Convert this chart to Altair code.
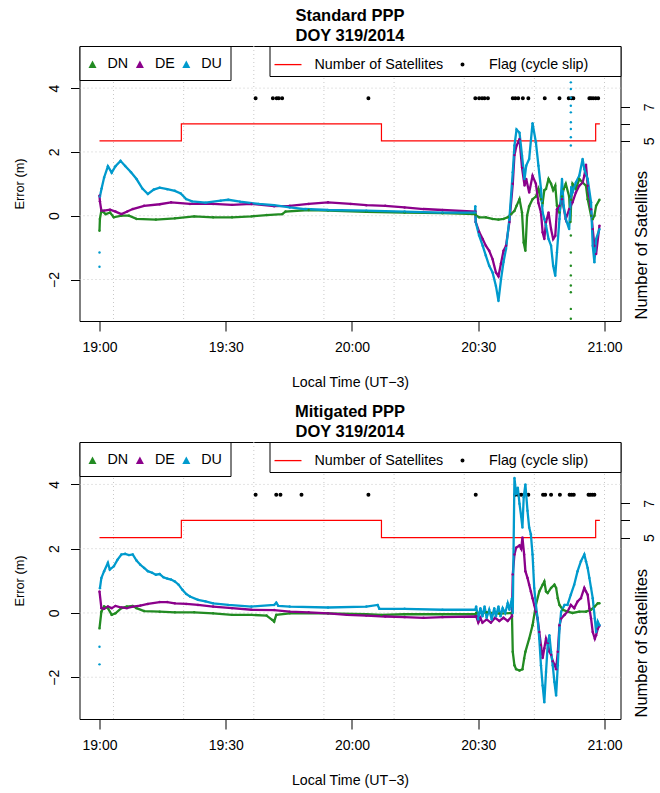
import altair as alt
import pandas as pd

# ---------------- data ----------------
SERIES = ["DN", "DE", "DU"]
SERIES_COLORS = ["#228B22", "#8B008B", "#009ACD"]
FLAG_KEYS = ["Number of Satellites", "Flag (cycle slip)"]
FLAG_COLORS = ["#FF0000", "#000000"]

X_TICKS = [0, 30, 60, 90, 120]                 # minutes after 19:00
X_TICK_LABELS = ["19:00", "19:30", "20:00", "20:30", "21:00"]
X_GRID = [3.33, 20.0, 36.67, 53.33, 70.0, 86.67, 103.33, 120.0]
ERR_TICKS = [-2, 0, 2, 4]
SAT_TICKS = [5, 6, 7]

SAT_T = [0, 19.45, 67.0, 117.9, 118.9]
SAT_N = [5, 6, 5, 6, 6]
FLAG_LEVEL = 7.5

# ---- Standard PPP ----
STD_FLAG_T = [37.1, 41.2, 42.1, 42.6, 43.4, 63.9, 89.3, 90.2, 90.9, 91.5, 92.3, 98.2, 98.8,
              99.5, 100.6, 101.9, 105.8, 109.3, 111.5, 112.2, 112.6, 116.4, 116.8, 117.3, 117.9, 118.5]

STD_DN_T = [0, 0.1, 0.45, 1.5, 2.5, 3.4, 5.2, 7.0, 8.8, 13.4, 17.9, 22.5, 27.0, 31.5, 36.1, 39.7,
            43.4, 44.2, 49.7, 54.3, 63.4, 72.5, 81.5, 89.3,
            89.4, 90.2, 91.8, 93.4, 94.8, 96.0, 97.0, 97.8, 98.6, 99.1, 99.8, 100.4, 100.8, 101.2,
            101.6, 102.1, 102.9, 103.7, 104.3, 104.9, 105.3, 105.7, 106.1, 106.7, 107.3, 107.8,
            108.3, 108.7, 109.3, 109.9, 110.3, 110.8, 111.6, 111.9, 112.1, 112.4, 113.2,
            114.0, 114.8, 115.6, 116.0, 116.8, 117.2, 117.6, 118.0, 118.8]
STD_DN_V = [-0.47, -0.1, 0.16, 0.05, 0.1, -0.05, 0.0, 0.0, -0.1, -0.12, -0.08, -0.02, -0.05, -0.05,
            -0.02, 0.02, 0.05, 0.13, 0.18, 0.16, 0.12, 0.1, 0.08, 0.05,
            0.02, -0.05, -0.05, -0.1, -0.12, -0.1, -0.05, 0.05, 0.15, 0.31, 0.52, 0.1, -0.84, -1.1,
            0.0, 0.3, 0.52, 0.6, 0.84, 0.52, 0.4, 0.8, 0.84, 1.15, 1.0, 0.8,
            0.94, 0.31, 0.1, 0.6, 0.84, 1.0, 0.6, -0.2, 0.5, 1.0, 0.84,
            1.15, 1.04, 0.94, 0.52, 0.0, -0.1, 0.0, 0.31, 0.5]
STD_DN_OUT_T = [112.0, 112.0, 112.0, 112.0, 112.0, 112.0, 112.0, 112.0]
STD_DN_OUT_V = [-0.62, -1.15, -1.57, -1.87, -2.19, -2.4, -2.92, -3.23]

STD_DE_T = [0, 0.1, 0.45, 1.1, 2.5, 3.8, 5.2, 6.6, 7.9, 10.6, 14.3, 17.0, 21.5, 27.0, 31.5, 36.1,
            41.5, 45.2, 49.7, 54.3, 59.7, 63.4, 67.9, 72.5, 77.0, 81.5, 89.3,
            89.4, 90.2, 91.05, 91.8, 92.6, 93.4, 94.2, 94.8, 95.4, 96.0, 96.6, 97.4, 98.2, 98.6,
            99.1, 99.8, 100.4, 101.0, 101.4, 102.1, 102.9, 103.7, 104.3, 104.9, 105.3, 105.7,
            106.1, 106.7, 107.3, 107.8, 108.3, 108.7, 109.3, 109.9, 110.8, 111.6, 112.4, 113.2,
            114.0, 114.8, 115.2, 115.6, 116.0, 116.8, 117.2, 117.6, 118.0, 118.8]
STD_DE_V = [0.63, 0.45, 0.16, 0.16, 0.19, 0.13, 0.05, 0.13, 0.21, 0.31, 0.36, 0.42, 0.37, 0.37,
            0.34, 0.37, 0.3, 0.31, 0.37, 0.42, 0.37, 0.33, 0.31, 0.26, 0.21, 0.18, 0.13,
            -0.2, -0.5, -0.73, -0.94, -1.1, -1.36, -1.78, -1.9, -1.5, -1.1, -0.94, -0.2, 1.0, 1.9,
            2.2, 2.4, 1.5, 0.95, 1.15, 0.73, 1.25, 1.0, 0.4, 0.1, -0.52, -0.73,
            -0.2, 0.1, -0.42, -0.73, -0.63, 0.2, 0.31, 0.52, -0.1, 0.2, 0.42, 0.73,
            0.94, 1.04, 1.25, 1.6, 0.94, 0.2, -0.42, -0.94, -1.2, -0.31]
STD_DE_OUT_T = []
STD_DE_OUT_V = []

STD_DU_T = [0.1, 0.5, 1.1, 2.0, 2.9, 3.8, 5.0, 6.1, 7.5, 8.8, 10.2, 11.5, 12.9, 14.3,
            16.1, 17.9, 19.3, 20.6, 22.0, 25.2, 28.8, 30.6, 33.4, 37.9, 41.5, 45.2, 48.8, 54.3,
            63.4, 72.5, 81.5, 89.2,
            89.3, 89.4, 90.2, 91.05, 91.8, 92.6, 93.4, 94.2, 94.8, 95.4, 96.0, 96.6, 97.4, 98.2,
            98.6, 99.1, 99.8, 100.4, 101.0, 101.4, 102.1, 102.9, 103.7, 104.3, 104.9, 105.3,
            105.7, 106.1, 106.7, 107.3, 107.8, 108.3, 108.7, 109.3, 109.9, 110.3, 110.8, 111.6,
            112.1, 112.4, 113.2, 114.0, 114.8, 115.2, 116.0, 116.8, 117.2, 117.6,
            118.0, 118.8]
STD_DU_V = [0.6, 0.85, 1.2, 1.55, 1.35, 1.55, 1.72, 1.56, 1.36, 1.15, 0.85, 0.68,
            0.82, 0.88, 0.83, 0.78, 0.7, 0.52, 0.45, 0.41, 0.47, 0.5, 0.44, 0.37, 0.33, 0.26,
            0.21, 0.18, 0.16, 0.13, 0.1, 0.1,
            0.3, -0.2, -0.62, -0.94, -1.25, -1.57, -1.78, -2.2, -2.67, -2.0, -1.45, -1.04, -0.1,
            1.36, 2.2, 2.7, 2.6, 1.88, 1.15, 1.57, 1.78, 2.9, 2.3, 1.57, 0.85, 0.1,
            -0.1, -0.31, -0.73, -0.94, -1.57, -1.88, -1.15, -0.1, 1.15, 0.31, -0.1, -0.42,
            0.9, 0.73, 1.04, 1.25, 1.78, 1.46, 1.15, 0.42, -0.94, -1.46,
            -0.73, -0.42]
STD_DU_OUT_T = [0, 0, 112.0, 112.0, 112.0, 112.0, 112.0, 112.0, 112.0, 112.0, 112.0]
STD_DU_OUT_V = [-1.6, -1.15, 4.18, 3.97, 3.7, 3.45, 3.24, 2.93, 2.72, 2.46, 2.2]

# ---- Mitigated PPP ----
MIT_FLAG_T = [37.1, 42.0, 43.0, 48.0, 63.9, 89.4, 98.8, 99.5, 100.2, 100.9, 101.9, 105.4, 105.9,
              107.3, 109.4, 111.7, 112.2, 112.7, 116.2, 116.6, 117.1, 117.6]

MIT_DN_T = [0, 0.45, 1.1, 2.0, 2.9, 3.8, 5.2, 6.5, 7.9, 8.8, 10.6, 14.3, 17.9, 22.5, 27.0, 31.5,
            36.1, 39.7, 41.1, 41.5, 42.0, 45.2, 54.3, 63.4, 67.0, 72.5, 81.5, 89.3,
            89.5, 92.0, 95.0, 98.0, 98.2, 98.6, 99.0, 99.8, 100.5, 100.9, 101.2, 102.1, 102.9,
            103.7, 104.5, 105.3, 105.7, 106.1, 106.5, 107.3, 108.1, 108.5, 108.9, 109.3, 110.1,
            111.2, 112.4, 114.0, 115.6, 116.8, 117.7, 118.4, 118.8]
MIT_DN_V = [-0.48, 0.04, 0.2, 0.15, -0.06, -0.01, 0.15, 0.2, 0.22, 0.15, 0.06, 0.04, 0.02, 0.02,
            -0.01, -0.06, -0.06, -0.08, -0.22, -0.27, -0.06, -0.01, -0.01, -0.04, -0.06, -0.04,
            -0.04, -0.04,
            0.0, 0.02, -0.02, 0.0, -1.21, -1.63, -1.75, -1.79, -1.75, -1.42, -1.21, -0.8, -0.38,
            0.25, 0.67, 0.88, 0.98, 0.67, 0.62, 0.78, 0.88, 0.78, 0.46, 0.25, 0.1,
            0.04, 0.0, 0.04, 0.04, 0.1, 0.2, 0.3, 0.3]
MIT_DN_OUT_T = []
MIT_DN_OUT_V = []

MIT_DE_T = [0, 0.45, 1.1, 2.0, 2.9, 3.8, 5.2, 6.5, 7.9, 9.7, 11.5, 14.3, 16.1, 17.9, 20.6, 23.4,
            27.0, 31.5, 36.1, 41.5, 45.2, 49.7, 54.3, 58.8, 63.4, 67.9, 72.5, 77.0, 81.5, 89.3,
            89.5, 90.0, 90.5, 91.0, 92.0, 93.0, 94.0, 95.0, 96.0, 97.0, 98.0, 98.2, 98.6, 99.0,
            99.8, 100.2, 100.5, 100.9, 101.2, 101.7, 102.1, 102.5, 102.9, 103.3, 103.7, 104.1,
            104.5, 104.9, 105.3, 105.7, 106.1, 106.5, 106.9, 107.3, 107.7, 108.1, 108.5, 108.9,
            109.3, 109.7, 110.5, 111.2, 112.0, 112.8, 113.6, 114.4, 115.2, 115.6, 116.0, 116.4,
            116.8, 117.2, 117.7, 118.0, 118.4, 118.8]
MIT_DE_V = [0.67, 0.15, 0.13, 0.2, 0.15, 0.22, 0.17, 0.15, 0.2, 0.23, 0.28, 0.34, 0.34, 0.3, 0.28,
            0.25, 0.2, 0.15, 0.1, 0.09, 0.04, 0.02, -0.01, -0.06, -0.08, -0.11, -0.13, -0.15,
            -0.13, -0.11,
            -0.1, -0.3, -0.15, -0.3, -0.2, -0.3, -0.15, -0.25, -0.15, -0.25, -0.1, 1.2, 1.82, 2.03,
            2.1, 2.0, 2.35, 1.82, 1.3, 1.09, 0.88, 0.67, 0.46, 0.25, 0.04, -0.17,
            -0.59, -1.0, -1.4, -1.1, -0.8, -0.95, -1.2, -1.3, -1.5, -1.6, -1.75, -1.21,
            -0.38, -0.17, -0.06, 0.04, 0.25, 0.15, 0.36, 0.46, 0.78, 0.67, 0.57, 0.15,
            -0.17, -0.59, -0.8, -0.69, -0.49, -0.4]
MIT_DE_OUT_T = []
MIT_DE_OUT_V = []

MIT_DU_T = [0.1, 0.45, 1.1, 2.0, 2.45, 3.4, 4.3, 5.2, 6.1, 7.0, 7.9, 8.8, 9.7, 10.6,
            11.5, 12.5, 13.4, 14.3, 15.2, 16.1, 17.0, 17.9, 18.8, 19.7, 20.6, 21.5, 23.4, 25.2,
            27.0, 30.6, 36.1, 41.5, 42.0, 42.5, 45.2, 54.3, 63.4, 66.1, 66.5, 72.5, 81.5, 89.3,
            89.5, 90.0, 90.5, 91.0, 91.5, 92.0, 92.6, 93.2, 93.8, 94.2, 94.8, 95.3, 95.8, 96.4,
            97.0, 97.4, 98.0, 98.2, 98.6, 99.0, 99.4, 99.8, 100.2, 100.5, 100.8, 101.2, 101.7,
            102.1, 102.5, 102.9, 103.3, 103.7, 104.1, 104.5, 104.9, 105.3, 105.7, 106.1, 106.5,
            106.9, 107.3, 107.7, 108.1, 108.5, 108.9, 109.3, 109.7, 110.5, 111.2, 112.0, 112.8,
            113.6, 114.4, 115.2, 115.6, 116.0, 116.4, 116.8, 117.2, 117.7, 118.0, 118.4, 118.8]
MIT_DU_V = [0.77, 1.09, 1.3, 1.56, 1.35, 1.45, 1.66, 1.82, 1.84, 1.8, 1.82, 1.63,
            1.5, 1.4, 1.3, 1.25, 1.19, 1.21, 1.11, 1.07, 1.04, 0.98, 0.88, 0.72, 0.59, 0.51,
            0.41, 0.36, 0.3, 0.25, 0.2, 0.25, 0.32, 0.22, 0.2, 0.17, 0.2, 0.25, 0.13, 0.13, 0.1,
            0.1,
            0.2, -0.2, 0.15, -0.1, 0.2, -0.15, 0.1, -0.2, 0.15, -0.1, 0.2, -0.1, 0.15, 0.0,
            0.3, 0.1, 0.45, 0.0, 4.2, 3.7, 3.9, 3.4, 3.0, 2.66, 3.6, 4.0, 3.18,
            2.66, 2.45, 1.82, 0.78, 0.25, -0.17, -0.8, -1.63, -2.26, -2.78, -1.84, -1.0,
            -0.69, -1.21, -1.63, -2.15, -2.57, -1.63, -0.49, 0.04, 0.25, 0.25, 0.57, 0.88,
            1.3, 1.61, 1.82, 1.61, 1.4, 1.09, 0.78, 0.46, -0.17, -0.59, -0.27, -0.38]
MIT_DU_OUT_T = [0, 0]
MIT_DU_OUT_V = [-1.6, -1.05]

# ---------------- chart ----------------
FONT = "Liberation Sans"
X_DOMAIN = [-4.75, 123.8]
ERR_DOMAIN = [-3.3, 5.32]
SAT_DOMAIN = [-5.57, 10.57]
PLOT_W = 541
# keeps the second legend column as wide as in the reference (trailing blank room)
LEGEND_PAD = "\u00a0" * 7 + "\u200b"

label_expr = "[" + ",".join("'%s'" % s for s in X_TICK_LABELS) + "][round(datum.value/30)]"

x_scale = alt.Scale(domain=X_DOMAIN, nice=False, zero=False)
x_axis = alt.Axis(values=X_TICKS, labelExpr=label_expr, title="Local Time (UT\u22123)",
                  grid=False, domain=False, tickSize=10, labelPadding=9, titlePadding=21,
                  labelFlush=False, titleFontSize=14.2)

TRI_PATH = "M-0.5,-0.375L-0.1,0.375L-0.9,0.375Z"
DOT_PATH = "M-0.1,0A0.1,0.1 0 1,1 0.1,0A0.1,0.1 0 1,1 -0.1,0Z"


def frame(series):
    rows = []
    for s, (t, v) in zip(SERIES, series):
        rows += [{"t": a, "v": b, "s": s} for a, b in zip(t, v)]
    return pd.DataFrame(rows, columns=["t", "v", "s"])


def panel(name, height, main, outliers, flag_t):
    sdf = frame(main)
    odf = pd.concat([frame(main), frame(outliers)], ignore_index=True)
    sat_df = pd.DataFrame({"t": SAT_T, "n": SAT_N})
    flag_df = pd.DataFrame({"t": flag_t, "n": [FLAG_LEVEL] * len(flag_t),
                            "lab": [FLAG_KEYS[1]] * len(flag_t)})

    err_scale = alt.Scale(domain=ERR_DOMAIN, nice=False, zero=False)
    sat_scale = alt.Scale(domain=SAT_DOMAIN, nice=False, zero=False)
    X = alt.X("t:Q", scale=x_scale, axis=x_axis)

    xg = alt.Chart(pd.DataFrame({"t": X_GRID})).mark_rule(
        color="#c8c8c8", strokeDash=[1, 3], strokeWidth=1).encode(x=X)
    yg = alt.Chart(pd.DataFrame({"v": ERR_TICKS})).mark_rule(
        color="#c8c8c8", strokeDash=[1, 3], strokeWidth=1).encode(
        y=alt.Y("v:Q", scale=err_scale, axis=None))

    sat = alt.Chart(sat_df).mark_line(color="#FF0000", strokeWidth=1.2,
                                      interpolate="step-after").encode(
        x=X,
        y=alt.Y("n:Q", scale=sat_scale,
                axis=alt.Axis(orient="right", values=SAT_TICKS,
                              labelExpr="datum.value == 6 ? '' : datum.label",
                              title="Number of Satellites", titleAngle=270,
                              titleAlign="left", titleBaseline="top", titleFontSize=16.5,
                              titleX=13, titleY=height - 2,
                              labelAngle=270, labelAlign="center",
                              labelBaseline="top", labelPadding=12.5, tickSize=9,
                              grid=False, domain=False)))

    leg2 = alt.Legend(title=None, orient="none", legendX=190, legendY=0,
                      direction="horizontal",
                      fillColor="white", strokeColor="black", padding=4,
                      labelOffset=12, columnPadding=4.5, symbolSize=729,
                      symbolStrokeWidth=1.3, labelFontSize=14.3,
                      labelExpr="datum.label == '%s' ? datum.label + '%s' : datum.label"
                                % (FLAG_KEYS[1], LEGEND_PAD))
    flags = alt.Chart(flag_df).mark_point(filled=True, size=729, strokeWidth=1.3,
                                          opacity=1).encode(
        x=X,
        y=alt.Y("n:Q", scale=sat_scale, axis=None),
        shape=alt.Shape("lab:N", scale=alt.Scale(domain=FLAG_KEYS, range=["stroke", DOT_PATH]),
                        legend=leg2),
        fill=alt.Fill("lab:N", scale=alt.Scale(domain=FLAG_KEYS, range=FLAG_COLORS),
                      legend=leg2),
        stroke=alt.Stroke("lab:N", scale=alt.Scale(domain=FLAG_KEYS, range=FLAG_COLORS),
                          legend=leg2),
    )

    lines = alt.Chart(sdf).mark_line(strokeWidth=2.3, clip=True).encode(
        x=X,
        y=alt.Y("v:Q", scale=err_scale,
                axis=alt.Axis(orient="left", values=ERR_TICKS, title="Error (m)",
                              grid=False, domain=False, tickSize=9, labelAngle=270,
                              labelAlign="center", labelBaseline="bottom", labelPadding=9,
                              titleAngle=270, titleAlign="center", titleBaseline="bottom",
                              titleFontSize=12.8, titleX=-53, titleY=height / 2)),
        stroke=alt.Stroke("s:N", scale=alt.Scale(domain=SERIES, range=SERIES_COLORS),
                          legend=None),
        order=alt.Order("t:Q"),
    )
    leg1 = alt.Legend(title=None, orient="top-left", offset=0, direction="horizontal",
                      fillColor="white", strokeColor="black", padding=8, labelOffset=0,
                      columnPadding=6.4, symbolType=TRI_PATH, symbolSize=400,
                      symbolStrokeWidth=0, labelFontSize=14.3)
    dots = alt.Chart(odf).mark_circle(size=6, opacity=1, clip=True).encode(
        x=X,
        y=alt.Y("v:Q", scale=err_scale, axis=None),
        fill=alt.Fill("s:N", scale=alt.Scale(domain=SERIES, range=SERIES_COLORS),
                      legend=leg1),
    )

    return alt.layer(xg, yg, sat, flags, lines, dots).resolve_scale(
        y="independent", fill="independent", stroke="independent", shape="independent"
    ).properties(
        width=PLOT_W, height=height,
        title=alt.TitleParams(text=[name, "DOY 319/2014"], fontSize=16.5, fontWeight="bold",
                              font=FONT, lineHeight=20, anchor="middle", frame="group",
                              offset=1, color="black"),
    )


top = panel("Standard PPP", 275,
            [(STD_DN_T, STD_DN_V), (STD_DE_T, STD_DE_V), (STD_DU_T, STD_DU_V)],
            [(STD_DN_OUT_T, STD_DN_OUT_V), (STD_DE_OUT_T, STD_DE_OUT_V),
             (STD_DU_OUT_T, STD_DU_OUT_V)],
            STD_FLAG_T)
bottom = panel("Mitigated PPP", 277,
               [(MIT_DN_T, MIT_DN_V), (MIT_DE_T, MIT_DE_V), (MIT_DU_T, MIT_DU_V)],
               [(MIT_DN_OUT_T, MIT_DN_OUT_V), (MIT_DE_OUT_T, MIT_DE_OUT_V),
                (MIT_DU_OUT_T, MIT_DU_OUT_V)],
               MIT_FLAG_T)

chart = alt.vconcat(top, bottom, spacing=13).resolve_scale(
    x="independent", y="independent", fill="independent", stroke="independent",
    shape="independent"
).properties(
    padding={"left": 12.5, "top": 7, "right": 2, "bottom": 2}, background="white"
).configure_view(stroke="black", strokeWidth=1).configure_axis(
    labelFont=FONT, titleFont=FONT, labelFontSize=14, titleFontSize=14,
    labelColor="black", titleColor="black", tickColor="black", tickWidth=1,
    titleFontWeight="normal"
).configure_legend(labelFont=FONT, labelColor="black")

chart.save("out.html", embed_options={"renderer": "svg", "actions": False})
